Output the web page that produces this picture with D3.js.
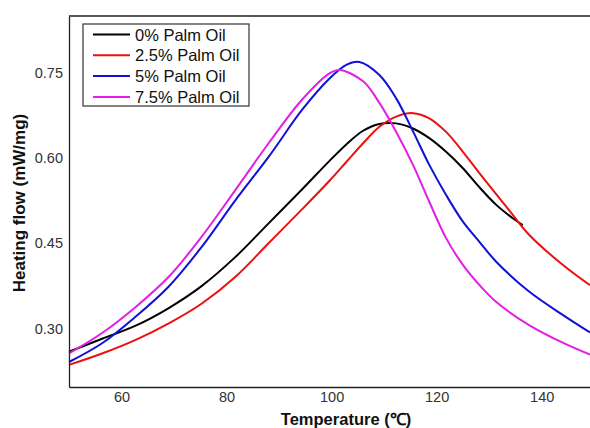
<!DOCTYPE html>
<html>
<head>
<meta charset="utf-8">
<script src="https://cdn.jsdelivr.net/npm/d3@7"></script>
<style>
    body { margin: 0; background: #fff; }
    svg { display: block; font-family: "Liberation Sans", Arial, sans-serif; }
</style>
</head>
<body>
<div id="chart"></div>
<script>
// values
const seriesNames = ["0% Palm Oil", "2.5% Palm Oil", "5% Palm Oil", "7.5% Palm Oil"];
const seriesColors = ["#000000", "#ec1010", "#1010d8", "#e41ee4"];

const temp0 = [50, 56.3, 62.7, 69.0, 75.3, 81.7, 88.0, 94.4, 99.6, 102.8, 106.0, 109.1, 112.3, 115.5, 118.6, 121.8, 125.0, 128.1, 131.3, 134.5, 136.4];
const flow0 = [0.259, 0.282, 0.305, 0.336, 0.375, 0.426, 0.485, 0.545, 0.595, 0.624, 0.648, 0.660, 0.661, 0.652, 0.635, 0.611, 0.582, 0.549, 0.518, 0.494, 0.482];

const temp25 = [50, 56.3, 62.7, 69.0, 75.3, 81.7, 88.0, 94.4, 99.6, 102.8, 106.0, 109.1, 112.3, 115.5, 118.6, 121.8, 125.0, 128.1, 131.3, 134.5, 137.6, 144.0, 149.2];
const flow25 = [0.236, 0.256, 0.280, 0.309, 0.344, 0.391, 0.450, 0.510, 0.560, 0.593, 0.626, 0.655, 0.673, 0.679, 0.670, 0.646, 0.611, 0.574, 0.537, 0.500, 0.465, 0.412, 0.376];

const temp5 = [50, 56.3, 62.7, 69.0, 75.3, 81.7, 88.0, 94.4, 99.6, 102.8, 105.3, 109.1, 112.3, 115.5, 118.6, 121.8, 125.0, 128.1, 131.3, 137.6, 144.0, 149.2];
const flow5 = [0.241, 0.274, 0.321, 0.374, 0.444, 0.526, 0.602, 0.685, 0.740, 0.764, 0.769, 0.746, 0.705, 0.647, 0.588, 0.535, 0.488, 0.453, 0.418, 0.365, 0.324, 0.293];

const temp75 = [50, 56.3, 62.7, 69.0, 75.3, 81.7, 88.0, 94.4, 99.6, 101.5, 106.0, 109.1, 112.3, 115.5, 118.6, 121.8, 125.0, 128.1, 131.3, 137.6, 144.0, 149.2];
const flow75 = [0.256, 0.292, 0.338, 0.391, 0.462, 0.544, 0.626, 0.703, 0.749, 0.755, 0.735, 0.697, 0.646, 0.588, 0.523, 0.459, 0.412, 0.377, 0.347, 0.306, 0.275, 0.254];

const xTicks = [60, 80, 100, 120, 140];
const yTicks = [0.30, 0.45, 0.60, 0.75];

function plotHeatFlow(width = 590, height = 428) {
    const margin = { top: 16, right: 0, bottom: 41, left: 69 };

    const svg = d3.select('#chart')
        .append('svg')
        .attr('width', width)
        .attr('height', height);

    const x = d3.scaleLinear().domain([50, 149.2]).range([margin.left, width - margin.right]);
    const y = d3.scaleLinear().domain([0.197, 0.85]).range([height - margin.bottom, margin.top]);

    const allSeries = [
        { temp: temp0, flow: flow0 },
        { temp: temp25, flow: flow25 },
        { temp: temp5, flow: flow5 },
        { temp: temp75, flow: flow75 }
    ];

    const line = d3.line()
        .x(d => x(d[0]))
        .y(d => y(d[1]))
        .curve(d3.curveCatmullRom);

    const plot = svg.append('g');
    plot.selectAll('path')
        .data(allSeries)
        .enter()
        .append('path')
        .attr('d', s => line(d3.zip(s.temp, s.flow)))
        .attr('fill', 'none')
        .attr('stroke', (s, i) => seriesColors[i])
        .attr('stroke-width', 2);

    // axes, no tick marks
    const xAxis = svg.append('g')
        .attr('transform', `translate(0, ${height - margin.bottom})`)
        .call(d3.axisBottom(x).tickValues(xTicks).tickSize(0).tickPadding(5));
    const yAxis = svg.append('g')
        .attr('transform', `translate(${margin.left}, 0)`)
        .call(d3.axisLeft(y).tickValues(yTicks).tickFormat(d3.format('.2f')).tickSize(0).tickPadding(6));

    [xAxis, yAxis].forEach(a => {
        a.select('.domain').attr('stroke', '#222').attr('stroke-width', 1.3);
        a.selectAll('text')
            .attr('fill', '#333')
            .style('font-size', '14.5px')
            .style('font-family', '"Liberation Sans", Arial, sans-serif');
    });

    // top frame line
    svg.append('line')
        .attr('x1', x.range()[0]).attr('x2', x.range()[1])
        .attr('y1', margin.top).attr('y2', margin.top)
        .attr('stroke', '#222').attr('stroke-width', 1.3);

    svg.append('text')
        .attr('x', 346)
        .attr('y', 425)
        .attr('text-anchor', 'middle')
        .style('font-size', '16.5px')
        .style('font-weight', 'bold')
        .attr('fill', '#111')
        .text('Temperature (\u2103)');

    svg.append('text')
        .attr('transform', 'translate(25, 203) rotate(-90)')
        .attr('text-anchor', 'middle')
        .style('font-size', '17px')
        .style('font-weight', 'bold')
        .attr('fill', '#111')
        .text('Heating flow (mW/mg)');

    // Legend
    const legend = svg.append('g').attr('transform', 'translate(83, 24)');
    legend.append('rect')
        .attr('width', 166)
        .attr('height', 82)
        .attr('fill', '#fff')
        .attr('stroke', '#333')
        .attr('stroke-width', 1.2);

    const rows = legend.selectAll('g.row')
        .data(seriesNames)
        .enter()
        .append('g')
        .attr('class', 'row')
        .attr('transform', (d, i) => `translate(0, ${10.5 + i * 20.8})`);

    rows.append('line')
        .attr('x1', 10).attr('x2', 47)
        .attr('stroke', (d, i) => seriesColors[i])
        .attr('stroke-width', 2);

    rows.append('text')
        .attr('x', 52)
        .attr('y', 6)
        .style('font-size', '16.5px')
        .attr('fill', '#111')
        .text(d => d);
}

plotHeatFlow();
</script>
</body>
</html>
